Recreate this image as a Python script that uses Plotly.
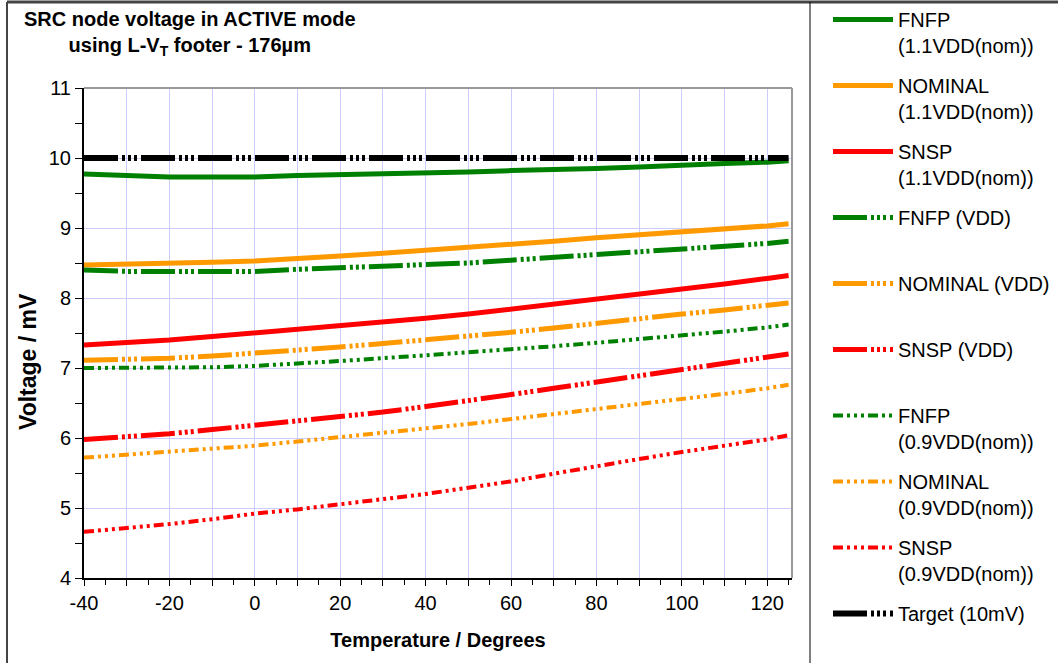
import plotly.graph_objects as go

# Temperature sweep (degrees C)
temps = [-40, -30, -20, -10, 0, 10, 20, 30, 40, 50, 60, 70, 80, 90, 100, 110, 120, 125]

# SRC node voltage (mV) per corner / supply
fnfp_11 = [9.77, 9.75, 9.73, 9.73, 9.73, 9.75, 9.76, 9.77, 9.78, 9.80, 9.82, 9.83, 9.85, 9.87, 9.90, 9.92, 9.94, 9.96]
nominal_11 = [8.47, 8.48, 8.49, 8.51, 8.53, 8.56, 8.60, 8.64, 8.68, 8.72, 8.77, 8.81, 8.86, 8.90, 8.95, 8.99, 9.03, 9.06]
snsp_11 = [7.33, 7.36, 7.40, 7.45, 7.50, 7.55, 7.60, 7.65, 7.71, 7.77, 7.84, 7.91, 7.99, 8.06, 8.13, 8.20, 8.28, 8.32]
fnfp_vdd = [8.40, 8.38, 8.38, 8.38, 8.38, 8.41, 8.43, 8.45, 8.47, 8.50, 8.54, 8.58, 8.62, 8.65, 8.69, 8.73, 8.78, 8.81]
nominal_vdd = [7.11, 7.12, 7.14, 7.17, 7.21, 7.25, 7.30, 7.35, 7.40, 7.45, 7.51, 7.57, 7.64, 7.70, 7.77, 7.83, 7.89, 7.93]
snsp_vdd = [5.98, 6.02, 6.06, 6.12, 6.18, 6.24, 6.30, 6.37, 6.45, 6.53, 6.62, 6.71, 6.80, 6.89, 6.98, 7.06, 7.15, 7.20]
fnfp_09 = [7.00, 7.00, 7.00, 7.01, 7.03, 7.06, 7.10, 7.14, 7.18, 7.22, 7.27, 7.31, 7.36, 7.41, 7.47, 7.52, 7.58, 7.62]
nominal_09 = [5.72, 5.76, 5.80, 5.84, 5.89, 5.95, 6.01, 6.07, 6.14, 6.20, 6.27, 6.34, 6.41, 6.48, 6.56, 6.63, 6.71, 6.76]
snsp_09 = [4.66, 4.71, 4.77, 4.84, 4.92, 4.98, 5.05, 5.12, 5.20, 5.29, 5.38, 5.49, 5.60, 5.70, 5.80, 5.89, 5.98, 6.04]
target = [10.0] * len(temps)

x_tick_vals = [-40, -30, -20, -10, 0, 10, 20, 30, 40, 50, 60, 70, 80, 90, 100, 110, 120]
x_tick_text = ["-40", "", "-20", "", "0", "", "20", "", "40", "", "60", "", "80", "", "100", "", "120"]
y_tick_vals = [4, 5, 6, 7, 8, 9, 10, 11]

GREEN = "#008000"
ORANGE = "#FF9900"
RED = "#FF0000"
BLACK = "#000000"

DASH_DOT_DOT = "34px,4px,3px,3px,3px,3px,3px,4px"
SHORT_DASH = "10px,4px,3px,4px,3px,4px,3px,4px"

series = [
    ("FNFP<br>(1.1VDD(nom))", fnfp_11, GREEN, "solid", 5),
    ("NOMINAL<br>(1.1VDD(nom))", nominal_11, ORANGE, "solid", 5),
    ("SNSP<br>(1.1VDD(nom))", snsp_11, RED, "solid", 5),
    ("FNFP (VDD)<br> ", fnfp_vdd, GREEN, DASH_DOT_DOT, 5),
    ("NOMINAL (VDD)<br> ", nominal_vdd, ORANGE, DASH_DOT_DOT, 5),
    ("SNSP (VDD)<br> ", snsp_vdd, RED, DASH_DOT_DOT, 5),
    ("FNFP<br>(0.9VDD(nom))", fnfp_09, GREEN, SHORT_DASH, 4),
    ("NOMINAL<br>(0.9VDD(nom))", nominal_09, ORANGE, SHORT_DASH, 4),
    ("SNSP<br>(0.9VDD(nom))", snsp_09, RED, SHORT_DASH, 4),
    ("Target (10mV)", target, BLACK, DASH_DOT_DOT, 6),
]

W, H = 1058, 663
L, R, T, B = 84, 792, 88, 578


def px_x(px):
    return (px - L) / (R - L)


def px_y(py):
    return (B - py) / (B - T)


fig = go.Figure()
for name, vals, color, dash, width in series:
    fig.add_trace(go.Scatter(
        x=temps, y=vals, mode="lines", name=name, legendgroup=name,
        line=dict(color=color, dash=dash, width=width),
    ))

FONT = "Liberation Sans, Arial, sans-serif"
grid = "#CCCCFF"

fig.update_layout(
    width=W, height=H,
    margin=dict(l=L, r=W - R, t=T, b=H - B, autoexpand=False),
    paper_bgcolor="white", plot_bgcolor="white",
    font=dict(family=FONT, size=20, color="black"),
    showlegend=True,
    legend=dict(
        x=px_x(828), y=px_y(0), xanchor="left", yanchor="top",
        font=dict(family=FONT, size=20, color="black"),
        traceorder="grouped", tracegroupgap=11, valign="top",
        itemwidth=60, bgcolor="rgba(0,0,0,0)", maxheight=720,
    ),
    xaxis=dict(
        range=[-40, 125.8], tickmode="array", tickvals=x_tick_vals, ticktext=x_tick_text,
        showgrid=True, gridcolor=grid, gridwidth=1,
        showline=True, linecolor="black", linewidth=2,
        ticks="outside", ticklen=6, tickcolor="black", tickwidth=1,
        minor=dict(dtick=5, tick0=0, ticks="outside", ticklen=5, tickcolor="black", showgrid=False),
        zeroline=False, tickfont=dict(size=20),
        title=dict(text="<b>Temperature / Degrees</b>", font=dict(size=20), standoff=20),
    ),
    yaxis=dict(
        range=[4, 11], tickmode="array", tickvals=y_tick_vals,
        showgrid=True, gridcolor=grid, gridwidth=1,
        showline=True, linecolor="black", linewidth=2,
        ticks="outside", ticklen=7, tickcolor="black", tickwidth=1,
        minor=dict(dtick=0.5, tick0=0, ticks="outside", ticklen=7, tickcolor="black", showgrid=False),
        zeroline=False, tickfont=dict(size=20),
    ),
    annotations=[
        dict(text="<b>SRC node voltage in ACTIVE mode<br>using L-V<sub>T</sub> footer - 176µm</b>",
             x=px_x(190), y=px_y(6), xref="paper", yref="paper", xanchor="center", yanchor="top",
             showarrow=False, align="center", font=dict(size=20)),
        dict(text="<b>Voltage / mV</b>", textangle=-90,
             x=px_x(28), y=px_y(361), xref="paper", yref="paper", xanchor="center", yanchor="middle",
             showarrow=False, font=dict(size=23)),
    ],
    shapes=[
        # plot-area frame (top and right)
        dict(type="line", xref="paper", yref="paper", x0=0, x1=1, y0=1, y1=1,
             line=dict(color="#999999", width=2)),
        dict(type="line", xref="paper", yref="paper", x0=1, x1=1, y0=0, y1=1,
             line=dict(color="#999999", width=2)),
        # outer chart border
        dict(type="line", xref="paper", yref="paper", x0=px_x(7), x1=px_x(W), y0=px_y(2), y1=px_y(2),
             line=dict(color="#444444", width=3)),
        dict(type="line", xref="paper", yref="paper", x0=px_x(7), x1=px_x(7), y0=px_y(2), y1=px_y(H),
             line=dict(color="#444444", width=2)),
        # legend box divider
        dict(type="line", xref="paper", yref="paper", x0=px_x(810), x1=px_x(810), y0=px_y(2), y1=px_y(H),
             line=dict(color="black", width=1)),
    ],
)

fig.write_html("out.html")
